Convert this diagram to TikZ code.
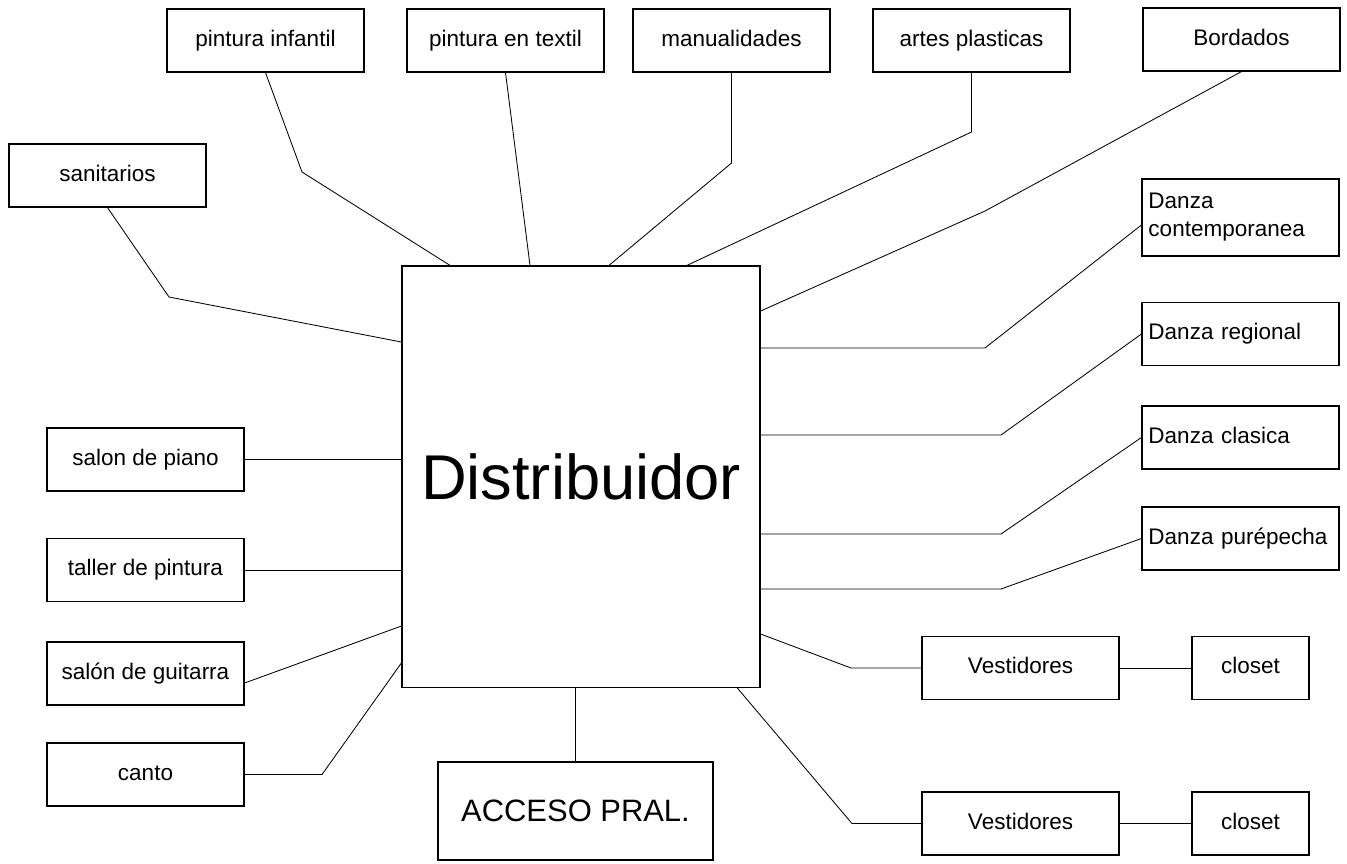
\documentclass[tikz,border=0pt]{standalone}
\usepackage{fontspec}
\setmainfont{Liberation Sans}
\usetikzlibrary{positioning}

\begin{document}
\begin{tikzpicture}[
    x=0.025cm, y=-0.025cm,
    room/.style={rectangle, draw, line width=0.8pt, minimum width=4.925cm, minimum height=1.575cm, inner sep=0pt, align=center, text height=11.5pt, text depth=3.4pt, font=\fontsize{16}{20}\selectfont},
    danza/.style={room, text width=4.6cm, align=left},
    closet/.style={room, minimum width=2.925cm},
    link/.style={line width=0.6pt}
]
\useasboundingbox (0,0) rectangle (1347,863);

% central hall
\node[room, minimum width=8.95cm, minimum height=10.525cm, text height={}, text depth={}, font=\fontsize{45}{50}\selectfont] (dist) at (581,476.5) {Distribuidor};
\node[room, minimum width=6.875cm, minimum height=2.45cm, text height={}, text depth={}, font=\fontsize{22}{26}\selectfont] (acc) at (575.5,811) {ACCESO PRAL.};

% top row
\node[room] (sani) at (107.5,175.5) {sanitarios};
\node[room] (pinf) at (265.5,40.5) {pintura infantil};
\node[room] (ptex) at (505.5,40.5) {pintura en textil};
\node[room] (manu) at (731.5,40.5) {manualidades};
\node[room] (arte) at (971.5,40.5) {artes plasticas};
\node[room] (bord) at (1241.5,39.5) {Bordados};

% dance rooms
\node[danza, minimum height=1.925cm, text height={}, text depth={}] (dcon) at (1240.5,217.5) {Danza\\contemporanea};
\node[danza] (dreg) at (1240.5,334) {Danza regional};
\node[danza] (dcla) at (1240.5,437.5) {Danza clasica};
\node[danza] (dpur) at (1240.5,538.5) {Danza purépecha};

% dressing rooms
\node[room] (ves1) at (1020.5,668) {Vestidores};
\node[closet] (clo1) at (1250.5,668) {closet};
\node[room] (ves2) at (1020.5,823.5) {Vestidores};
\node[closet] (clo2) at (1250.5,823.5) {closet};

% left column
\node[room] (pian) at (145.5,459.5) {salon de piano};
\node[room] (tall) at (145.5,570) {taller de pintura};
\node[room] (guit) at (145.5,673.5) {salón de guitarra};
\node[room] (cant) at (145.5,774.5) {canto};

% bends
\coordinate (k-sani) at (169,297);
\coordinate (k-pinf) at (302,172);
\coordinate (k-manu) at (manu.south |- 0,163);
\coordinate (k-arte) at (arte.south |- 0,132);
\coordinate (k-bord) at (985,211);
\coordinate (k-dcon) at (985,348);
\coordinate (k-dreg) at (1001,435);
\coordinate (k-dcla) at (1001,534);
\coordinate (k-dpur) at (1001,589);
\coordinate (k-ves1) at (851,668);
\coordinate (k-ves2) at (852,823.5);
\coordinate (k-cant) at (322,774.5);

\draw[link] (sani.south) -- (k-sani) -- (dist.west |- 0,342);
\draw[link] (pinf.south) -- (k-pinf) -- (dist.north -| 450,0);
\draw[link] (ptex.south) -- (dist.north -| 530,0);
\draw[link] (manu.south) -- (k-manu) -- (dist.north -| 609,0);
\draw[link] (arte.south) -- (k-arte) -- (dist.north -| 687,0);
\draw[link] (bord.south) -- (k-bord) -- (dist.east |- 0,311);

\draw[link] (dcon.west |- 0,225) -- (k-dcon) -- (dist.east |- k-dcon);
\draw[link] (dreg.west) -- (k-dreg) -- (dist.east |- k-dreg);
\draw[link] (dcla.west) -- (k-dcla) -- (dist.east |- k-dcla);
\draw[link] (dpur.west) -- (k-dpur) -- (dist.east |- k-dpur);

\draw[link] (dist.east |- 0,634) -- (k-ves1) -- (ves1.west);
\draw[link] (dist.south -| 737,0) -- (k-ves2) -- (ves2.west);
\draw[link] (ves1) -- (clo1);
\draw[link] (ves2) -- (clo2);
\draw[link] (acc.north |- dist.south) -- (acc.north);

\draw[link] (pian) -- (dist.west |- pian.east);
\draw[link] (tall) -- (dist.west |- tall.east);
\draw[link] (guit.east |- 0,683) -- (dist.west |- 0,626);
\draw[link] (cant.east) -- (k-cant) -- (dist.west |- 0,663);
\end{tikzpicture}
\end{document}
